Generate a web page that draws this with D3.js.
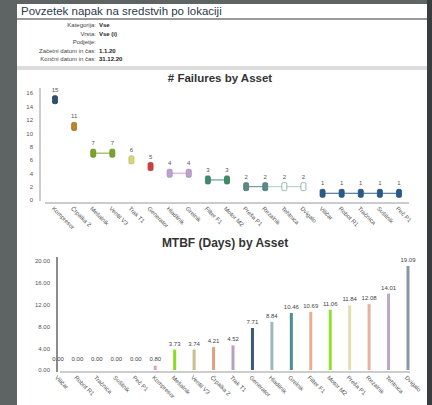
<!DOCTYPE html>
<html><head><meta charset="utf-8">
<script src="https://cdn.jsdelivr.net/npm/d3@7"></script>
<style>
html,body{margin:0;padding:0;background:#5e6464;}
svg{display:block;font-family:"Liberation Sans",Arial,sans-serif;}
</style></head>
<body><svg id="c" width="432" height="405"></svg>
<script>
const pageTitle = "Povzetek napak na sredstvih po lokaciji";
const paramLabels = ["Kategorija:", "Vrsta:", "Podjetje:", "Začetni datum in čas:", "Končni datum in čas:"];
const paramValues = ["Vse", "Vse (i)", "", "1.1.20", "31.12.20"];

const failTitle = "# Failures by Asset";
const failAssets = ["Kompresor","Črpalka 2","Mešalnik","Ventil V3","Trak T1","Generator","Hladilnik","Grelnik","Filter F1","Motor M2","Preša P1","Rezalnik","Tehtnica","Dvigalo","Viličar","Robot R1","Tračnica","Sušilnik","Peč P1"];
const failValues = [15, 11, 7, 7, 6, 5, 4, 4, 3, 3, 2, 2, 2, 2, 1, 1, 1, 1, 1];
const failColors = ["#2f4f6f","#b8862b","#7aa32a","#7aa32a","#d4d87a","#d0403a","#c0a0d0","#c0a0d0","#3f8a6a","#3f8a6a","#5a8a88","#5a8a88","#a8ccc4","#a8ccc4","#2a5a88","#2a5a88","#2a5a88","#2a5a88","#2a5a88"];
const failHollow = [false,false,false,false,false,false,false,false,false,false,false,false,true,true,false,false,false,false,false];
const failTicks = [0, 2, 4, 6, 8, 10, 12, 14, 16];

const mtbfTitle = "MTBF (Days) by Asset";
const mtbfAssets = ["Viličar","Robot R1","Tračnica","Sušilnik","Peč P1","Kompresor","Mešalnik","Ventil V3","Črpalka 2","Trak T1","Generator","Hladilnik","Grelnik","Filter F1","Motor M2","Preša P1","Rezalnik","Tehtnica","Dvigalo"];
const mtbfValues = [0, 0, 0, 0, 0, 0.80, 3.73, 3.74, 4.21, 4.52, 7.71, 8.84, 10.46, 10.69, 11.06, 11.84, 12.08, 14.01, 19.09];
const mtbfColors = ["#cccccc","#cccccc","#cccccc","#cccccc","#cccccc","#e8a0b0","#88dd22","#c8c090","#e0a080","#b8a0c0","#3a5a78","#a0b8b8","#4a9090","#e8b090","#90e030","#e0e0b0","#e8b0a0","#b8a8c8","#8898a8"];
const mtbfTicks = [0, 4, 8, 12, 16, 20];

const svg = d3.select("#c");

// page frame
svg.append("rect").attr("x",0).attr("y",0).attr("width",432).attr("height",405).attr("fill","#5e6464");
svg.append("rect").attr("x",427).attr("y",0).attr("width",5).attr("height",405).attr("fill","#3a3d3d");
svg.append("rect").attr("x",17).attr("y",4).attr("width",410).attr("height",401).attr("fill","#ffffff");
// title bar
svg.append("text").attr("x",21).attr("y",14.5).attr("font-size",11.5).attr("fill","#2a3a4a").text(pageTitle);
svg.append("rect").attr("x",17).attr("y",18).attr("width",410).attr("height",2).attr("fill","#9a9a9a");
// parameters
const pg = svg.append("g").attr("font-size",6).attr("fill","#333");
paramLabels.forEach((l,i)=>{
  const y = 27 + i*8.5;
  pg.append("text").attr("x",96).attr("y",y).attr("text-anchor","end").attr("fill","#444").text(l);
  pg.append("text").attr("x",99).attr("y",y).attr("font-weight","bold").attr("fill","#222").text(paramValues[i]);
});
svg.append("rect").attr("x",17).attr("y",66).attr("width",410).attr("height",4).attr("fill","#dcdcdc");

// ---- Failures chart
const fx = d3.scalePoint().domain(failAssets).range([55, 399]);
const fy = d3.scaleLinear().domain([0,16]).range([200, 93]);
svg.append("text").attr("x",220).attr("y",82).attr("text-anchor","middle").attr("font-size",11.5).attr("font-weight","bold").attr("fill","#333").text(failTitle);
const fYAxis = svg.append("g").attr("transform","translate(40,0)")
  .call(d3.axisLeft(fy).tickValues(failTicks).tickSize(0).tickPadding(7));
fYAxis.select(".domain").attr("stroke","#999").attr("d","M0,88V201");
fYAxis.selectAll("text").attr("font-size",6).attr("fill","#555");
const fXAxis = svg.append("g").attr("transform","translate(0,203)")
  .call(d3.axisBottom(fx).tickSize(0).tickFormat(""));
fXAxis.select(".domain").attr("stroke","#999").attr("d","M45,0H409");
fXAxis.selectAll(".tick").append("text")
  .attr("transform","translate(-4,6) rotate(45)").attr("text-anchor","start")
  .attr("font-size",6).attr("fill","#555").text(d=>d);
// connecting lines between equal values
for (let i=0;i<failValues.length-1;i++){
  if (failValues[i]===failValues[i+1]){
    svg.append("line").attr("x1",fx(failAssets[i])).attr("x2",fx(failAssets[i+1]))
      .attr("y1",fy(failValues[i])).attr("y2",fy(failValues[i+1]))
      .attr("stroke",failColors[i+1]).attr("stroke-width",1.2).attr("opacity",0.8);
  }
}
svg.append("g").selectAll("rect").data(failValues).join("rect")
  .attr("x",(d,i)=>fx(failAssets[i])-2.5).attr("y",d=>fy(d)-4)
  .attr("width",5).attr("height",8).attr("rx",1.5)
  .attr("fill",(d,i)=>failHollow[i]?"#ffffff":failColors[i])
  .attr("stroke",(d,i)=>failHollow[i]?"#7aa8a0":d3.color(failColors[i]).darker(0.4))
  .attr("stroke-width",0.8);
svg.append("g").selectAll("text").data(failValues).join("text")
  .attr("x",(d,i)=>fx(failAssets[i])).attr("y",d=>fy(d)-8)
  .attr("text-anchor","middle").attr("font-size",6).attr("fill","#555").text(d=>d);

// ---- MTBF chart
const mx = d3.scalePoint().domain(mtbfAssets).range([58, 408]);
const my = d3.scaleLinear().domain([0,20]).range([370, 261]);
svg.append("text").attr("x",225).attr("y",247).attr("text-anchor","middle").attr("font-size",12).attr("font-weight","bold").attr("fill","#333").text(mtbfTitle);
const mYAxis = svg.append("g").attr("transform","translate(57,0)")
  .call(d3.axisLeft(my).tickValues(mtbfTicks).tickFormat(d3.format(".2f")).tickSize(0).tickPadding(7));
mYAxis.select(".domain").attr("stroke","#666").attr("stroke-width",1.5).attr("d","M0,257V372");
mYAxis.selectAll("text").attr("font-size",6).attr("fill","#555");
const mXAxis = svg.append("g").attr("transform","translate(0,372)")
  .call(d3.axisBottom(mx).tickSize(0).tickFormat(""));
mXAxis.select(".domain").attr("stroke","#999").attr("d","M60,0H410");
mXAxis.selectAll(".tick").append("text")
  .attr("transform","translate(-4,6) rotate(45)").attr("text-anchor","start")
  .attr("font-size",6).attr("fill","#555").text(d=>d);
svg.append("g").selectAll("rect").data(mtbfValues).join("rect")
  .attr("x",(d,i)=>mx(mtbfAssets[i])-1.5).attr("y",d=>my(d))
  .attr("width",3).attr("height",d=>my(0)-my(d))
  .attr("fill",(d,i)=>mtbfColors[i]);
svg.append("g").selectAll("text").data(mtbfValues).join("text")
  .attr("x",(d,i)=>mx(mtbfAssets[i])).attr("y",d=>Math.min(my(d)-4, my(0)-9))
  .attr("text-anchor","middle").attr("font-size",6).attr("fill","#444").text(d=>d3.format(".2f")(d));
</script></body></html>
